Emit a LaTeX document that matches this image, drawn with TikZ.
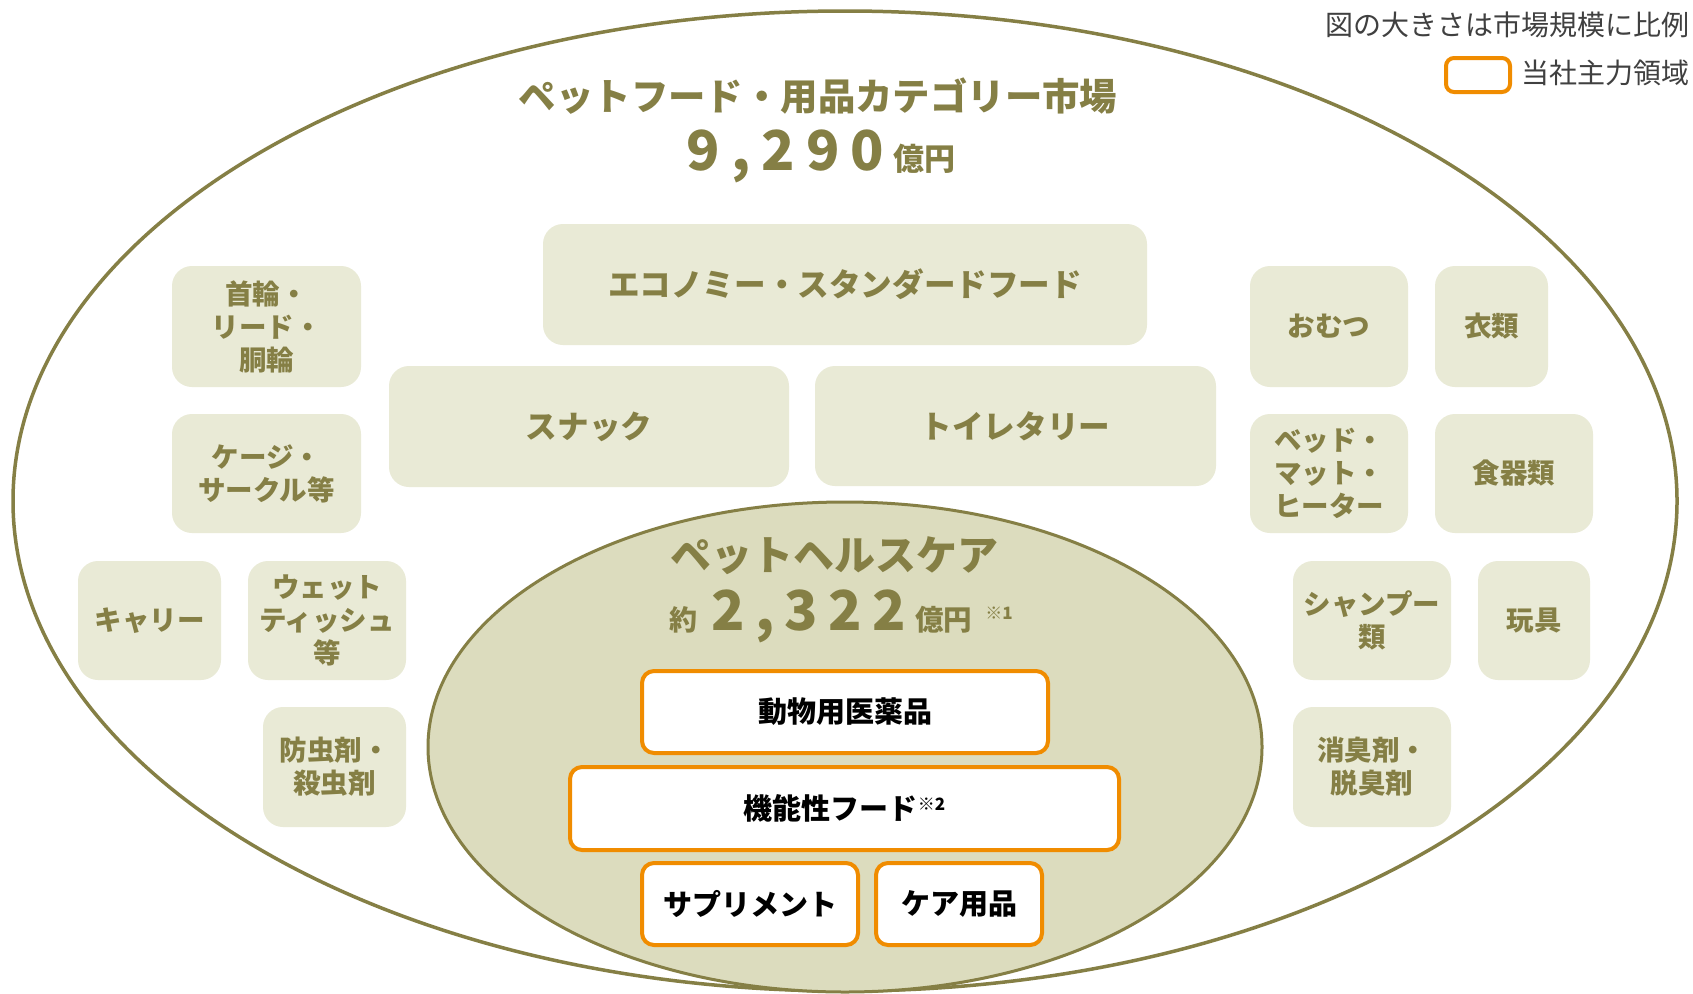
\documentclass[tikz,border=0pt]{standalone}
\usepackage{fontspec}
\setmainfont{Noto Sans CJK JP}
\definecolor{olv}{HTML}{857F45}
\definecolor{boxfill}{HTML}{E9EAD6}
\definecolor{innerfill}{HTML}{DCDCBE}
\definecolor{orng}{HTML}{F08C00}
\definecolor{legtext}{HTML}{404040}
\newcommand{\fs}[1]{\fontsize{#1}{#1}\selectfont}
\begin{document}
\begin{tikzpicture}[x=1pt,y=-1pt,
  gbox/.style={fill=boxfill, rounded corners=20pt, inner sep=0pt, align=center, text=olv,
    font=\bfseries\fontsize{27.5}{33}\selectfont},
  obox/.style={fill=white, draw=orng, line width=4pt, rounded corners=12pt, inner sep=0pt,
    text=black, font=\bfseries\fontsize{29}{33}\selectfont},
  olvtext/.style={text=olv, inner sep=0pt},
  legtxt/.style={text=legtext, inner sep=0pt, font=\fs{28}},
]
\useasboundingbox (0,0) rectangle (1693,993);
\fill[white] (0,0) rectangle (1693,993);

% outer ellipse
\draw[olv, line width=3.5pt] (845,501) ellipse [x radius=832, y radius=490];

% legend
\node[legtxt, anchor=east] (legA) at (1690,25) {図の大きさは市場規模に比例};
\node[draw=orng, line width=4pt, rounded corners=8pt, fill=white, minimum width=64pt, minimum height=34pt, inner sep=0pt] (legbox) at (1478,75) {};
\node[legtxt, anchor=east] (legB) at (1690,73) {当社主力領域};

% title
\node[olvtext, font=\bfseries\fs{37.4}] (title) at (818,96) {ペットフード・用品カテゴリー市場};
\node[olvtext, anchor=base, font=\bfseries] (total) at (821,170)
  {{\fs{55}9\hspace{11pt},\hspace{11pt}2\hspace{11pt}9\hspace{11pt}0}\hspace{9pt}{\fs{31}億円}};

% gray boxes
\node[gbox, minimum width=604pt, minimum height=121pt, font=\bfseries\fs{31.6}] (econ) at (845,284.5) {\raisebox{2pt}{エコノミー・スタンダードフード}};
\node[gbox, minimum width=400pt, minimum height=121pt, font=\bfseries\fs{31.6}] (snack) at (589,426.5) {\raisebox{2pt}{スナック}};
\node[gbox, minimum width=401pt, minimum height=120pt, font=\bfseries\fs{31.6}] (toilet) at (1015.5,426) {\raisebox{2pt}{トイレタリー}};

\node[gbox, minimum width=189pt, minimum height=121pt] (kubiwa) at (266.5,326.5) {首輪・\\リード・\\胴輪};
\node[gbox, minimum width=189pt, minimum height=119pt] (cage) at (266.5,473.5) {ケージ・\\サークル等};
\node[gbox, minimum width=143pt, minimum height=119pt] (carry) at (149.5,620.5) {キャリー};
\node[gbox, minimum width=158pt, minimum height=119pt] (wet) at (327,620.5) {ウェット\\ティッシュ\\等};
\node[gbox, minimum width=143pt, minimum height=120pt] (bochu) at (334.5,767) {防虫剤・\\殺虫剤};

\node[gbox, minimum width=158pt, minimum height=121pt] (omutsu) at (1329,326.5) {おむつ};
\node[gbox, minimum width=113pt, minimum height=121pt] (irui) at (1491.5,326.5) {衣類};
\node[gbox, minimum width=158pt, minimum height=119pt] (bed) at (1329,473.5) {ベッド・\\マット・\\ヒーター};
\node[gbox, minimum width=158pt, minimum height=119pt] (shokki) at (1514,473.5) {食器類};
\node[gbox, minimum width=158pt, minimum height=119pt] (shampoo) at (1372,620.5) {シャンプー\\類};
\node[gbox, minimum width=112pt, minimum height=119pt] (gangu) at (1534,620.5) {玩具};
\node[gbox, minimum width=158pt, minimum height=120pt] (shoshu) at (1372,767) {消臭剤・\\脱臭剤};

% inner ellipse
\draw[olv, line width=3pt, fill=innerfill] (845,747) ellipse [x radius=417, y radius=245];

\node[olvtext, font=\bfseries\fs{41}] (hc) at (834,556) {ペットヘルスケア};
\node[olvtext, anchor=base west, font=\bfseries] (hcval) at (669,630)
  {{\fs{28}約}\hspace{14pt}{\fs{55}2\hspace{10.5pt},\hspace{10.5pt}3\hspace{10.5pt}2\hspace{10.5pt}2}\hspace{9pt}{\fs{28.5}億円}\hspace{13pt}\raisebox{11pt}{\fs{17}※1}};

% orange boxes
\node[obox, minimum width=406pt, minimum height=82pt] (iyaku) at (845,712) {動物用医薬品};
\node[obox, minimum width=549pt, minimum height=83pt] (kino) at (844.5,808.5) {機能性フード\raisebox{9pt}{\fs{17}※2}};
\node[obox, minimum width=216pt, minimum height=82pt] (supp) at (750,904) {サプリメント};
\node[obox, minimum width=166pt, minimum height=82pt] (care) at (959,904) {ケア用品};
\end{tikzpicture}
\end{document}
